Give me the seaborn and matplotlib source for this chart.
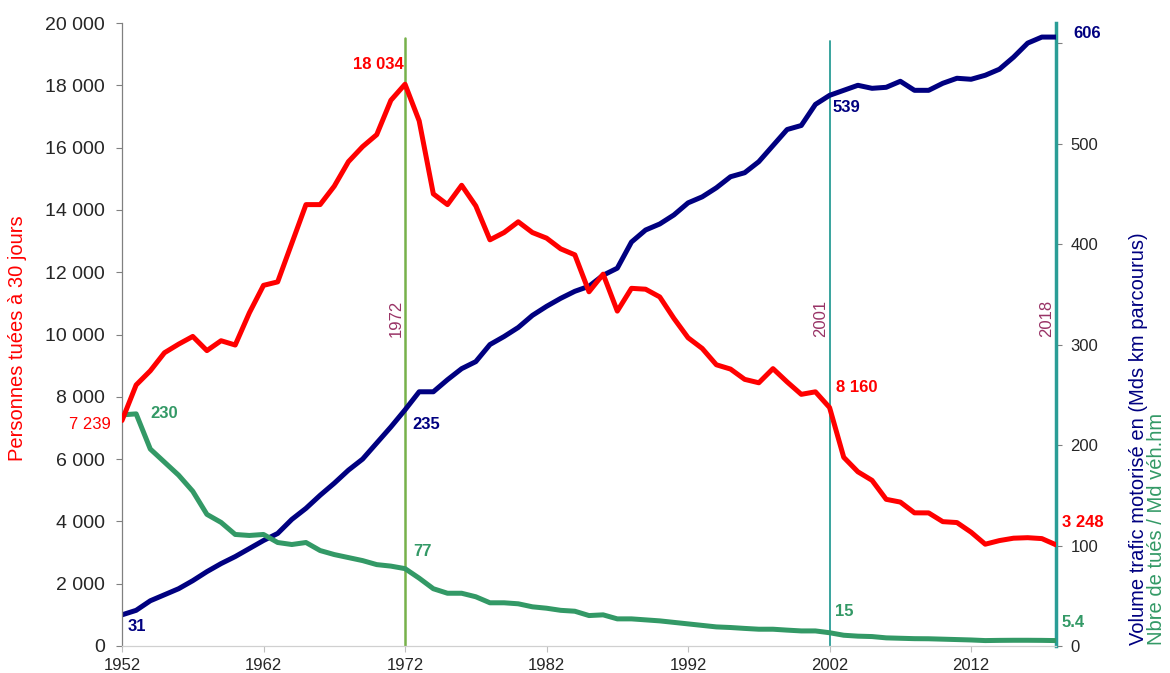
import matplotlib
matplotlib.use("Agg")
import matplotlib.pyplot as plt
import seaborn as sns
import numpy as np
import pandas as pd
from matplotlib.ticker import FuncFormatter, FixedLocator

sns.set_style("white")
plt.rcParams['font.family'] = ['Liberation Sans', 'DejaVu Sans']

years = list(range(1952, 2019))

tues = [7239, 8380, 8835, 9414, 9690, 9938, 9483, 9800, 9662, 10696,
        11578, 11689, 12929, 14170, 14170, 14762, 15548, 16030, 16416, 17519,
        18034, 16857, 14514, 14170, 14790, 14128, 13039, 13274, 13618, 13274,
        13094, 12750, 12557, 11371, 11937, 10751, 11482, 11454, 11206, 10517,
        9896, 9552, 9028, 8890, 8560, 8450, 8904, 8477, 8079, 8160,
        7655, 6058, 5593, 5318, 4709, 4620, 4275, 4273, 3992, 3963,
        3653, 3268, 3384, 3461, 3477, 3448, 3248]

trafic = [31, 35.5, 45, 51, 57, 65, 74, 82, 89, 97,
          105, 112, 126, 137, 150, 162, 175, 186, 202, 218,
          235, 253, 253, 265, 276, 283, 300, 308, 317, 329,
          338, 346, 353, 358, 369, 376, 402, 414, 420, 429,
          441, 447, 456, 467, 471, 482, 498, 514, 518, 539,
          548, 553, 558, 555, 556, 562, 553, 553, 560, 565,
          564, 568, 574, 586, 600, 606, 606]

taux = [230, 231, 196, 183, 170, 154, 131, 123, 111, 110,
        111, 103, 101, 103, 95, 91, 88, 85, 81, 79.5,
        77, 67.5, 57, 52.5, 52.5, 49, 43, 43, 42, 39,
        37.6, 35.5, 34.6, 30.3, 31, 27, 27, 26, 25, 23.5,
        22, 20.5, 19, 18.4, 17.5, 16.7, 16.7, 15.8, 15, 15,
        13.2, 10.7, 9.8, 9.4, 8.1, 7.7, 7.3, 7.2, 6.8, 6.4,
        6.0, 5.4, 5.6, 5.7, 5.7, 5.6, 5.4]

xticks = [1952, 1962, 1972, 1982, 1992, 2002, 2012]
left_ticks = [0, 2000, 4000, 6000, 8000, 10000, 12000, 14000, 16000, 18000, 20000]
right_ticks = [0, 100, 200, 300, 400, 500, 600]
right_labels = ["0", "100", "200", "300", "400", "500", ""]

events = [(1972, "1972"), (2002, "2001"), (2018, "2018")]

RED = "#FF0000"
NAVY = "#000080"
GREEN = "#339966"
PURPLE = "#993366"
OLIVE = "#77B14A"
TEAL = "#2A9D96"

df = pd.DataFrame({"annee": years, "tues": tues, "trafic": trafic, "taux": taux})

fig = plt.figure(figsize=(11.70, 6.73), dpi=100)
ax = fig.add_axes([122/1170, 27/673, (1056-122)/1170, (646-23)/673])
ax2 = ax.twinx()

# put left axis (red) on top
ax.set_zorder(ax2.get_zorder() + 1)
ax.patch.set_visible(False)

# vertical event lines (behind data)
ax2.axvline(1972, ymin=0, ymax=0.976, color=OLIVE, lw=1.8, zorder=1)
ax2.axvline(2002, ymin=0, ymax=0.971, color=TEAL, lw=1.3, zorder=1)

sns.lineplot(data=df, x="annee", y="trafic", ax=ax2, color=NAVY, linewidth=3.6,
             solid_joinstyle="round", zorder=3)
sns.lineplot(data=df, x="annee", y="taux", ax=ax2, color=GREEN, linewidth=3.6,
             solid_joinstyle="round", zorder=4)
sns.lineplot(data=df, x="annee", y="tues", ax=ax, color=RED, linewidth=3.6,
             solid_joinstyle="round", zorder=5)

ax.set_xlim(1952, 2018)
ax.set_ylim(0, 20000)
ax2.set_ylim(0, 620)

# x grid on ax2 (behind data)
ax2.set_axisbelow(True)
ax2.xaxis.set_major_locator(FixedLocator(xticks))
ax2.grid(axis='x', color="#D9D9D9", lw=0.9, zorder=0)
ax.grid(False)

ax.set_xticks(xticks)
ax.set_xticklabels([str(y) for y in xticks])
ax.set_yticks(left_ticks)
ax.yaxis.set_major_formatter(FuncFormatter(lambda v, p: f"{int(v):,}".replace(",", " ")))
ax2.set_yticks(right_ticks)
ax2.set_yticklabels(right_labels)

ax.set_xlabel("")
ax.set_ylabel("")
ax2.set_ylabel("")

ax.tick_params(axis='x', labelsize=12, length=4.3, width=0.8, color="#BFBFBF", pad=4, direction='out', bottom=True)
ax.tick_params(axis='y', labelsize=14, length=4.3, width=0.8, color="#808080", pad=8, direction='out', left=True)
ax2.tick_params(axis='y', labelsize=12, length=4.3, width=0.8, color="#808080", pad=6, direction='out', right=True)

for sp in ["top", "right"]:
    ax.spines[sp].set_visible(False)
ax.spines["left"].set_color("#808080")
ax.spines["left"].set_linewidth(0.9)
ax.spines["bottom"].set_color("#D0D0D0")
ax.spines["bottom"].set_linewidth(0.9)
for sp in ["top", "left", "bottom"]:
    ax2.spines[sp].set_visible(False)
ax2.spines["right"].set_color(TEAL)
ax2.spines["right"].set_linewidth(2.5)

# rotated event labels
for xv, lab in events:
    ax.text(xv - 0.65, 10530, lab, rotation=90, color=PURPLE, fontsize=12,
            ha='center', va='center', zorder=6)

# data labels
def lbl(x, y, s, color, ha='left', bold=True):
    ax.text(x, y, s, color=color, fontsize=12, fontweight='bold' if bold else 'normal',
            ha=ha, va='center', zorder=7, clip_on=False)

lbl(1971.9, 18652, "18 034", RED, ha='right')
lbl(1951.2, 7095, "7 239", RED, ha='right', bold=False)
lbl(1953.98, 7448, "230", GREEN)
lbl(1952.4, 610, "31", NAVY)
lbl(1972.55, 7095, "235", NAVY)
lbl(1972.6, 3034, "77", GREEN)
lbl(2002.18, 17303, "539", NAVY)
lbl(2002.46, 8299, "8 160", RED)
lbl(2002.4, 1104, "15", GREEN)
lbl(2018.4, 3958, "3 248", RED)
lbl(2019.2, 19647, "606", NAVY)
lbl(2018.4, 748, "5.4", GREEN)

# axis titles
fig.text(18/1170, (673-338)/673, "Personnes tuées à 30 jours", rotation=90, color=RED,
         fontsize=14.5, ha='center', va='center')
fig.text(1138/1170, (673-645)/673, "Volume trafic motorisé en (Mds km parcourus)", rotation=90,
         color=NAVY, fontsize=14.5, ha='center', va='bottom')
fig.text(1157/1170, (673-645)/673, "Nbre de tués / Md véh.hm", rotation=90,
         color=GREEN, fontsize=14.5, ha='center', va='bottom')

fig.savefig("out.png", dpi=100)
